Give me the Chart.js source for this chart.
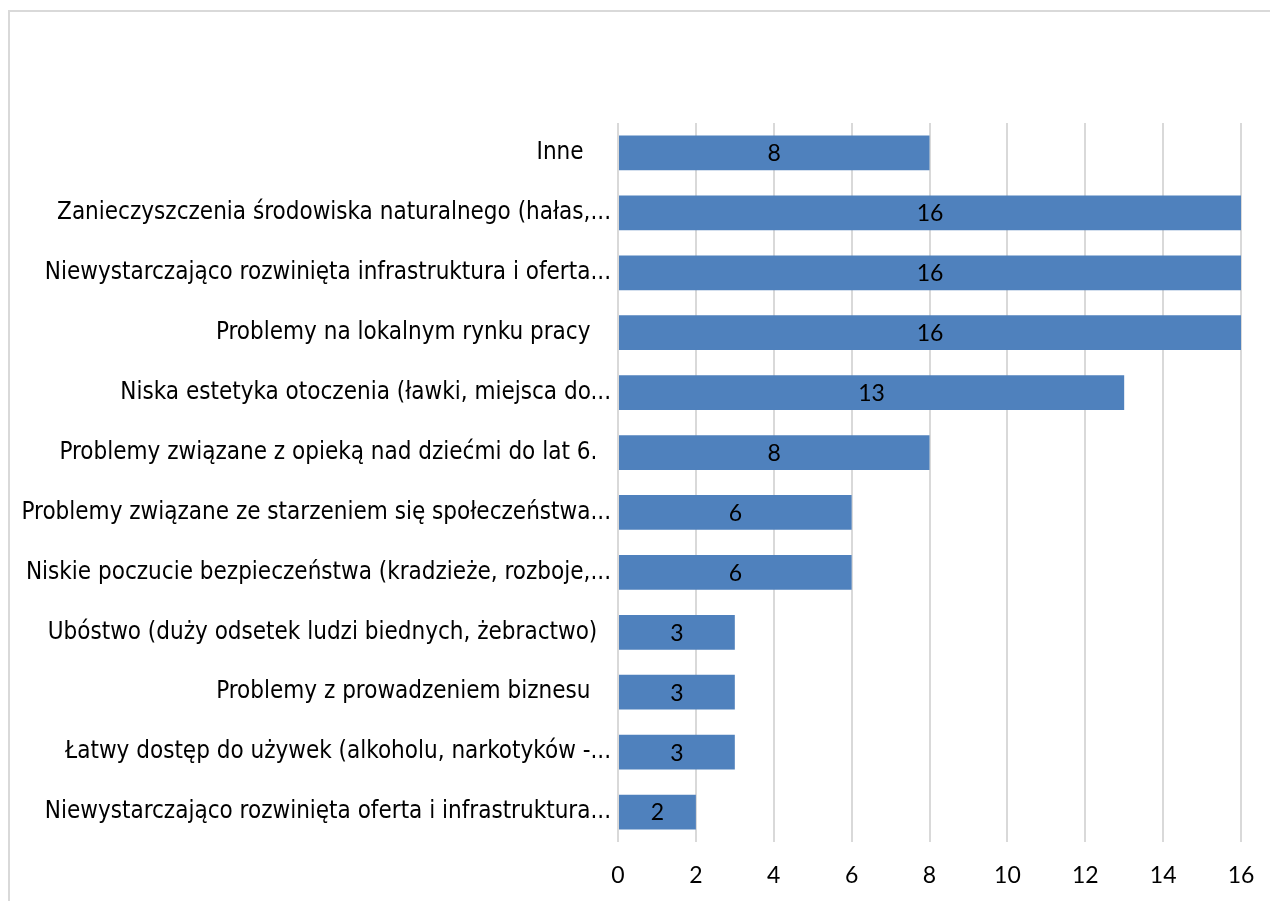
<!DOCTYPE html>
<html>
<head>
<meta charset="utf-8">
<script src="https://cdn.jsdelivr.net/npm/chart.js@4.4.0/dist/chart.umd.min.js"></script>
<style>
  html, body { margin: 0; padding: 0; background: #fff; overflow: hidden; }
  #frame { position: absolute; left: 8px; top: 10px; width: 1262px; height: 891px;
           border-left: 2px solid #d9d9d9; border-top: 2px solid #d9d9d9; box-sizing: border-box; }
  #wrap { position: absolute; left: 0; top: 0; width: 1270px; height: 901px; }
</style>
</head>
<body>
<div id="frame"></div>
<div id="wrap"><canvas id="chart"></canvas></div>
<script>
'use strict';
// categories, top to bottom (trailing spaces are in the source labels)
var categories = [
  'Inne    ',
  'Zanieczyszczenia środowiska naturalnego (hałas,...',
  'Niewystarczająco rozwinięta infrastruktura i oferta...',
  'Problemy na lokalnym rynku pracy   ',
  'Niska estetyka otoczenia (ławki, miejsca do...',
  'Problemy związane z opieką nad dziećmi do lat 6.  ',
  'Problemy związane ze starzeniem się społeczeństwa...',
  'Niskie poczucie bezpieczeństwa (kradzieże, rozboje,...',
  'Ubóstwo (duży odsetek ludzi biednych, żebractwo)  ',
  'Problemy z prowadzeniem biznesu   ',
  'Łatwy dostęp do używek (alkoholu, narkotyków -...',
  'Niewystarczająco rozwinięta oferta i infrastruktura...'
];
var counts = [8, 16, 16, 16, 13, 8, 6, 6, 3, 3, 3, 2];
var xTicks = [0, 2, 4, 6, 8, 10, 12, 14, 16];

var labelFont = '"Liberation Sans Narrow", "DejaVu Sans Condensed", sans-serif';
var numberFont = 'Lato, "Open Sans", sans-serif';

// value labels in the middle of each bar
var barLabels = {
  id: 'barLabels',
  afterDatasetsDraw: function(chart) {
    var ctx = chart.ctx;
    var meta = chart.getDatasetMeta(0);
    ctx.save();
    ctx.font = '23px ' + numberFont;
    ctx.fillStyle = '#000';
    ctx.textAlign = 'center';
    ctx.textBaseline = 'middle';
    meta.data.forEach(function(bar, i) {
      ctx.fillText(String(counts[i]), (bar.x + bar.base) / 2, bar.y + 1);
    });
    ctx.restore();
  }
};

var ctx = document.getElementById('chart').getContext('2d');
var chart = new Chart(ctx, {
  type: 'bar',
  data: {
    labels: categories,
    datasets: [{
      data: counts,
      backgroundColor: '#4f81bd',
      borderWidth: 0,
      categoryPercentage: 1,
      barPercentage: 0.58
    }]
  },
  options: {
    indexAxis: 'y',
    responsive: true,
    maintainAspectRatio: false,
    animation: false,
    layout: { padding: { top: 123, right: 29, bottom: 0, left: 0 } },
    plugins: {
      legend: { display: false },
      tooltip: { enabled: false }
    },
    scales: {
      x: {
        min: 0,
        max: 16,
        afterBuildTicks: function(scale) {
          scale.ticks = xTicks.map(function(v) { return { value: v }; });
        },
        afterFit: function(scale) { scale.height = 59; },
        grid: { color: '#d9d9d9', lineWidth: 2, drawTicks: true, tickLength: 20, tickColor: 'rgba(0,0,0,0)' },
        border: { display: false },
        ticks: { padding: 0, color: '#000', font: { size: 23, family: numberFont } }
      },
      y: {
        afterFit: function(scale) { scale.width = 618; },
        grid: { display: false },
        border: { display: false },
        ticks: { padding: -1, color: '#000', font: { size: 24, family: labelFont } }
      }
    }
  },
  plugins: [barLabels]
});
</script>
</body>
</html>
